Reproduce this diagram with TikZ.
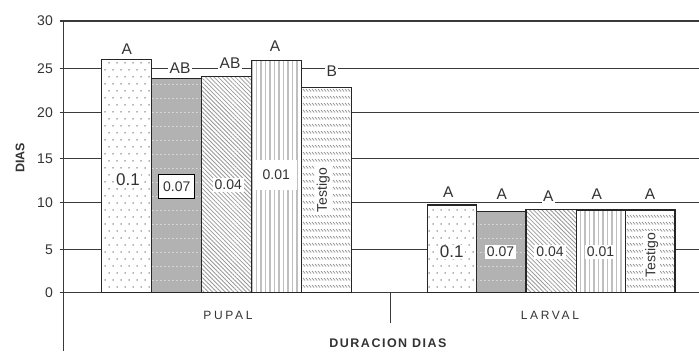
\documentclass[tikz,border=0pt]{standalone}
\usepackage{fontspec}
\setmainfont{Liberation Sans}
\usetikzlibrary{patterns,patterns.meta}
\definecolor{txt}{HTML}{333333}
\definecolor{grid}{HTML}{3A3A3A}
\pgfdeclarepatternformonly{sparsedots}{\pgfqpoint{-1pt}{-1pt}}{\pgfqpoint{9pt}{15pt}}{\pgfqpoint{8pt}{14pt}}{%
  \pgfpathcircle{\pgfqpoint{1pt}{1pt}}{0.75pt}%
  \pgfpathcircle{\pgfqpoint{5pt}{8pt}}{0.75pt}%
  \pgfusepath{fill}}
\pgfdeclarepatternformonly{rowstrokes}{\pgfqpoint{-1pt}{-1pt}}{\pgfqpoint{4pt}{8pt}}{\pgfqpoint{3pt}{7pt}}{%
  \pgfsetlinewidth{0.7pt}%
  \pgfpathmoveto{\pgfqpoint{0pt}{3pt}}\pgfpathlineto{\pgfqpoint{2pt}{0.5pt}}%
  \pgfusepath{stroke}}
\pgfdeclarepatternformonly{hdotrows}{\pgfqpoint{0pt}{0pt}}{\pgfqpoint{4pt}{14pt}}{\pgfqpoint{4pt}{14pt}}{%
  \pgfpathrectangle{\pgfqpoint{0pt}{0pt}}{\pgfqpoint{2pt}{1pt}}%
  \pgfusepath{fill}}
\tikzset{
  gridline/.style={draw=grid, line width=1.2pt},
  barbox/.style={draw=black!85, line width=1.2pt},
  pdots/.style={barbox, preaction={fill=white}, pattern=sparsedots, pattern color=black!60},
  pgray/.style={barbox, preaction={fill=black!30}, pattern=hdotrows, pattern color=white!85!black},
  pdiag/.style={barbox, preaction={fill=white}, pattern={Lines[angle=-45,distance=3pt,line width=0.8pt]}, pattern color=black!40},
  pvert/.style={barbox, preaction={fill=white}, pattern={Lines[angle=90,distance=4.5pt,line width=1.6pt]}, pattern color=black!25},
  pwave/.style={barbox, preaction={fill=white}, pattern=rowstrokes, pattern color=black!45},
  ticklab/.style={anchor=east, text=txt, font=\fontsize{14}{16}\selectfont, inner sep=0pt},
  letr/.style={text=txt, fill=white, inner sep=1.5pt, font=\fontsize{15.5}{17}\selectfont},
  bigval/.style={text=txt, fill=white, inner sep=1pt, font=\fontsize{17}{19}\selectfont},
  val/.style={text=txt, fill=white, inner sep=2pt, font=\fontsize{14}{16}\selectfont},
  catlab/.style={text=txt, font=\fontsize{12}{14}\selectfont\addfontfeature{LetterSpace=22}},
}
\begin{document}
\begin{tikzpicture}[x=1pt,y=-1pt]
\useasboundingbox (0,0) rectangle (699,351);
% grid lines and ticks
\foreach \yy/\lab [count=\i] in {292.7/0,249.3/5,202.7/10,158.7/15,112.7/20,68.3/25,21/30}{
  \draw[gridline] (59.5,\yy) -- (699,\yy);
  \node[ticklab] (t\i) at (53,\yy) {\lab};
}
% axis
\draw[gridline] (63.5,21) -- (63.5,351);
\draw[gridline] (390.7,292.7) -- (390.7,323.3);
% PUPAL bars
\draw[pdots] (101.7,292.7) rectangle (151.7,59.3);
\draw[pgray] (151.7,292.7) rectangle (201.7,78.3);
\draw[pdiag] (201.7,292.7) rectangle (251.7,76.7);
\draw[pvert] (251.7,292.7) rectangle (301.7,60.3);
\draw[pwave] (301.7,292.7) rectangle (351.7,87.7);
% LARVAL bars
\draw[pdots] (427.3,292.7) rectangle (476.7,205);
\draw[pgray] (476.7,292.7) rectangle (526,211.7);
\draw[pdiag] (526,292.7) rectangle (576.3,209.3);
\draw[pvert] (576.3,292.7) rectangle (625.8,210);
\draw[pwave] (625.8,292.7) rectangle (675,210);
% significance letters
\node[letr] (l1) at (126.7,49.3) {A};
\node[letr] (l2) at (180,68.3) {AB};
\node[letr] (l3) at (230,63.3) {AB};
\node[letr] (l4) at (275,46) {A};
\node[letr] (l5) at (331.7,71) {B};
\node[letr] (m1) at (448.3,191.7) {A};
\node[letr] (m2) at (501.7,194.5) {A};
\node[letr] (m3) at (548.3,196.5) {A};
\node[letr] (m4) at (596.7,194.5) {A};
\node[letr] (m5) at (650,194.5) {A};
% values pupal
\node[bigval] (v1) at (128,180) {0.1};
\node[val, draw=black, line width=1.2pt, inner xsep=4.5pt, inner ysep=7pt] (v2) at (176.7,186.7) {0.07};
\node[val] (v3) at (228.3,185) {0.04};
\node[val, minimum width=41pt, minimum height=30pt] (v4) at (276.3,175) {0.01};
\node[val, rotate=90] (v5) at (323.3,190) {Testigo};
% values larval
\node[bigval] (w1) at (451.7,251.7) {0.1};
\node[val] (w2) at (500.5,251.7) {0.07};
\node[val] (w3) at (550,251.7) {0.04};
\node[val] (w4) at (600.5,251.7) {0.01};
\node[val, rotate=90] (w5) at (651.7,255) {Testigo};
% category labels
\node[catlab] (cp) at (228,315.7) {PUPAL};
\node[catlab] (cl) at (550,315.7) {LARVAL};
\node[text=txt, font=\fontsize{12.5}{14}\selectfont\bfseries\addfontfeature{LetterSpace=12}] (xt) at (388,343) {DURACION DIAS};
\node[text=txt, rotate=90, font=\fontsize{12.5}{14}\selectfont\bfseries] (yt) at (20,158) {DIAS};
\end{tikzpicture}
\end{document}
